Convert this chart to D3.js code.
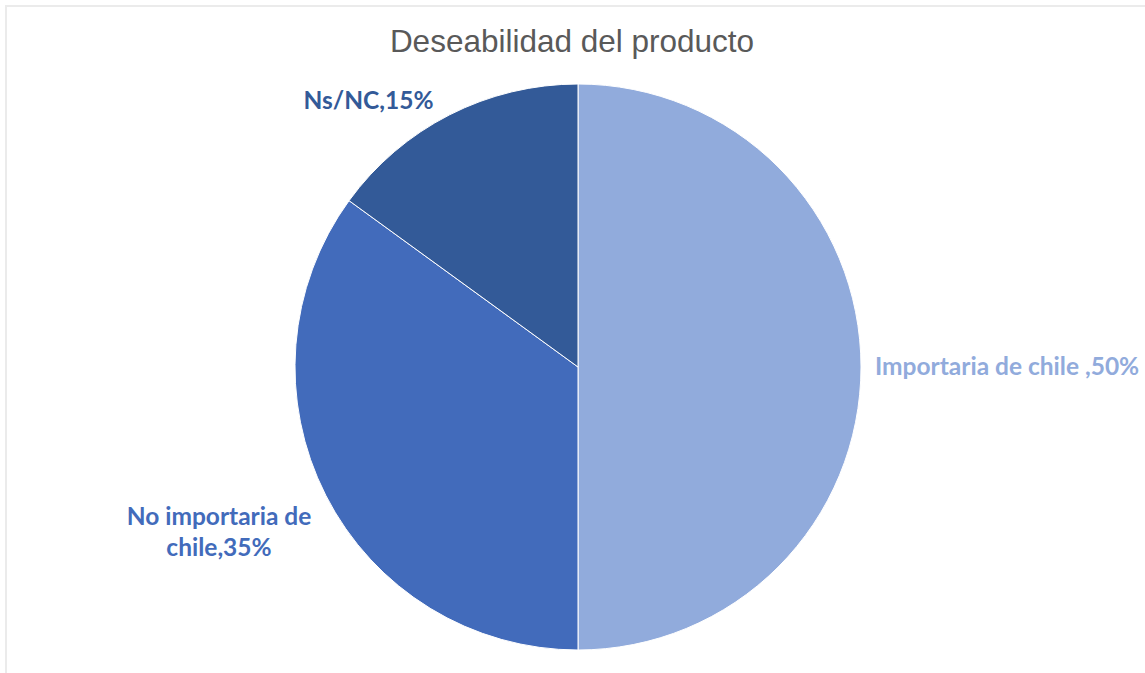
<!DOCTYPE html>
<html>
<head>
<meta charset="utf-8">
<script src="https://cdn.jsdelivr.net/npm/d3@7"></script>
<style>
  html, body { margin: 0; padding: 0; background: #ffffff; }
  svg { display: block; }
</style>
</head>
<body>
<svg id="chart" width="1145" height="673"></svg>
<script>
// Survey answers and their shares (%)
const categories = ["Importaria de chile ", "No importaria de chile", "Ns/NC"];
const shares = [50, 35, 15];
const sliceColors = ["#91abdc", "#426bbb", "#335a98"];
const chartTitle = "Deseabilidad del producto";

const width = 1145, height = 673;
const svg = d3.select("#chart");

// Chart area frame (top and left edges visible)
svg.append("path")
  .attr("d", "M6,673 V6 H1145")
  .attr("fill", "none")
  .attr("stroke", "#ebebeb")
  .attr("stroke-width", 2);

svg.append("text")
  .attr("x", 572)
  .attr("y", 52)
  .attr("text-anchor", "middle")
  .attr("font-family", "'Liberation Sans', Arial, sans-serif")
  .attr("font-size", 31.5)
  .attr("fill", "#595959")
  .text(chartTitle);

const cx = 578, cy = 367, radius = 283;
const data = categories.map((c, i) => ({ label: c, value: shares[i], color: sliceColors[i] }));

const pie = d3.pie().value(d => d.value).sort(null);
const arc = d3.arc().innerRadius(0).outerRadius(radius);

const g = svg.append("g").attr("transform", `translate(${cx},${cy})`);
const arcs = pie(data);

g.selectAll("path.slice")
  .data(arcs)
  .join("path")
  .attr("class", "slice")
  .attr("d", arc)
  .attr("fill", d => d.data.color)
  .attr("stroke", "#ffffff")
  .attr("stroke-width", 1);

// Data labels outside the slices
const labelFont = "Lato, 'Open Sans', sans-serif";
const labelLayouts = [
  { lines: [categories[0] + "," + shares[0] + "%"], x: 875, y: 375, anchor: "start" },
  { lines: ["No importaria de", "chile," + shares[1] + "%"], x: 219, y: 525, anchor: "middle" },
  { lines: [categories[2] + "," + shares[2] + "%"], x: 368.5, y: 109, anchor: "middle" }
];

labelLayouts.forEach((lab, i) => {
  const t = svg.append("text")
    .attr("x", lab.x)
    .attr("y", lab.y)
    .attr("text-anchor", lab.anchor)
    .attr("font-family", labelFont)
    .attr("font-weight", "bold")
    .attr("font-size", 24.5)
    .attr("fill", sliceColors[i]);
  lab.lines.forEach((line, j) => {
    t.append("tspan")
      .attr("x", lab.x)
      .attr("dy", j === 0 ? 0 : 31)
      .text(line);
  });
});
</script>
</body>
</html>
